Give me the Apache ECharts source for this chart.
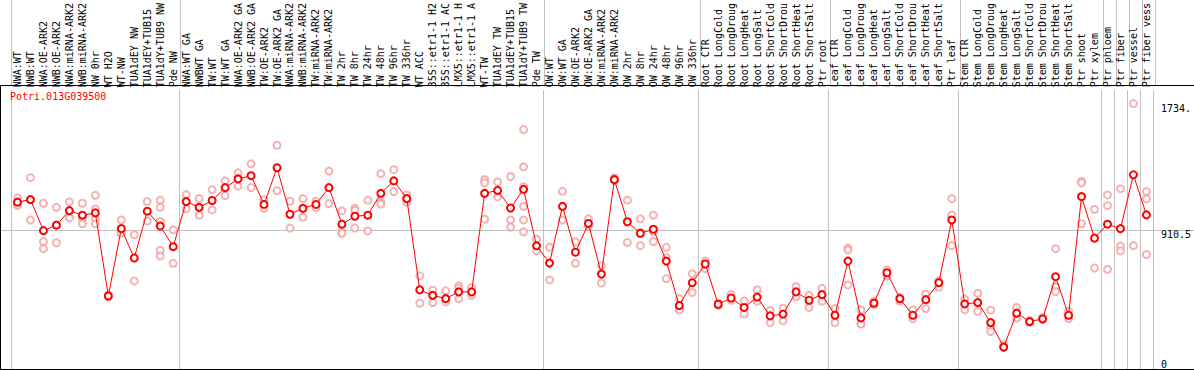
<!DOCTYPE html>
<html><head><meta charset="utf-8">
<script src="https://cdn.jsdelivr.net/npm/echarts@6/dist/echarts.min.js"></script>
<style>html,body{margin:0;padding:0;background:#fff}#c{width:1194px;height:370px}</style>
</head><body><div id="c"></div>
<script>
const geneName = 'Potri.013G039500';
const categories = ['NWA:WT','NWB:WT','NWA:OE-ARK2','NWB:OE-ARK2','NWA:miRNA-ARK2','NWB:miRNA-ARK2','NW 0hr','WT H2O','WT-NW','TUA1dEY NW','TUA1dEY+TUB15 NW','TUA1dY+TUB9 NW','Pde NW',
'NWA:WT GA','NWBWT GA','TW:WT','TW:WT GA','NWA:OE-ARK2 GA','NWB:OE-ARK2 GA','TW:OE-ARK2','TW:OE-ARK2 GA','NWA:miRNA-ARK2 GA','NWB:miRNA-ARK2 GA','TW:miRNA-ARK2','TW:miRNA-ARK2 GA','TW 2hr','TW 8hr','TW 24hr','TW 48hr','TW 96hr','TW 336hr','WT ACC','35S::etr1-1 H2O','35S::etr1-1 ACC','LMX5::etr1-1 H2O','LMX5::etr1-1 ACC','WT-TW','TUA1dEY TW','TUA1dEY+TUB15 TW','TUA1dY+TUB9 TW','Pde TW',
'OW:WT','OW:WT GA','OW:OE-ARK2','OW:OE-ARK2 GA','OW:miRNA-ARK2','OW:miRNA-ARK2 GA','OW 2hr','OW 8hr','OW 24hr','OW 48hr','OW 96hr','OW 336hr',
'Root CTR','Root LongCold','Root LongDrought','Root LongHeat','Root LongSalt','Root ShortCold','Root ShortDrought','Root ShortHeat','Root ShortSalt','Ptr root',
'Leaf CTR','Leaf LongCold','Leaf LongDrought','Leaf LongHeat','Leaf LongSalt','Leaf ShortCold','Leaf ShortDrought','Leaf ShortHeat','Leaf ShortSalt','Ptr leaf',
'Stem CTR','Stem LongCold','Stem LongDrought','Stem LongHeat','Stem LongSalt','Stem ShortCold','Stem ShortDrought','Stem ShortHeat','Stem ShortSalt','Ptr shoot',
'Ptr xylem','Ptr phloem','Ptr fiber','Ptr vessel','Ptr fiber vessel'];

const meanValues = [1090,1107,904,940,1035,1005,1020,477,917,725,1031,934,799,
1094,1056,1101,1185,1242,1263,1075,1315,1011,1050,1075,1185,946,998,1005,1148,1229,1113,517,481,460,504,504,1148,1167,1052,1174,805,
692,1063,763,951,620,1237,962,887,913,705,415,564,
686,423,464,402,470,347,359,504,449,486,
351,705,334,430,629,460,351,453,564,974,
425,434,303,143,365,310,327,603,351,1126,
855,946,917,1269,1007];

const replicateValues = [
[1118,1083,1069],[1250,1107,973],[1083,833,786],[1056,825],[1091,987],[1083,983,949],[1135,1045,981,949],[484,470],[974,892,887],[877,575],[1094,966],[1103,1056,964,776,738],[909,690],
[1139,1047],[1113,1005],[1172,1039],[1229,1133],[1282,1195],[1340,1185],[1105,1050],[1462,1165],[1096,921],[1113,992],[1096,1054],[1293,1081],[1033,896,887],[1050,1037,921],[1103,902],[1276,1090,1077],[1302,1159],[1137,1113,1090],[609,430],[515,434],[511,457,438],[543,527,460],[532,481],[1237,1216,979],[1222,1124],[1257,974,927],[1564,1321,1191,1063,973,896],[848,772],
[795,582],[1161,974],[831,690],[981,934],[675,562],[1250,1237,1230],[1103,827],[981,892,806],[1005,896,833],[795,727,590],[460,399,386],[622,500],
[705,656],[430,415],[488,449],[444,361],[517,443],[382,303],[397,316],[538,473],[481,402],[527,443],
[395,303],[790,778,549],[386,299,293],[443,421],[647,607],[468,443],[386,329],[490,395],[575,534],[1113,1005,806],
[457,386],[494,376],[384,278,245],[158,139],[402,332],[317,305],[336,323],[786,538,506],[378,329],[1226,1216,949],
[1043,660],[1137,1067,651],[1178,803,772],[1734.3,806],[1159,1111,748]];

const yAxisMax = 1821;
const yLabelValues = [910.5, 1734.3];
const yZeroLabel = [0];
const midLineValue = 910.5;
const groupStartIndices = [0,13,41,53,63,73,84,85,86,87];

const MONO = 'DejaVu Sans Mono';
const GRID_LEFT = 11, GRID_W = 1144;
const chart = echarts.init(document.getElementById('c'), null, {renderer: 'svg'});

const splitInterval = (idx) => groupStartIndices.indexOf(idx) >= 0;
const replicatePoints = [];
replicateValues.forEach((arr, i) => arr.forEach(v => replicatePoints.push([i, v])));

chart.setOption({
  animation: false,
  backgroundColor: '#fff',
  title: {text: geneName, left: 10, top: 91, padding: 0,
    textStyle: {color: '#ff0000', fontSize: 10, fontFamily: MONO, fontWeight: 'normal'}},
  grid: [
    {left: GRID_LEFT, width: GRID_W, top: 85, height: 284, containLabel: false},
    {left: GRID_LEFT, width: GRID_W, top: 0, height: 85, containLabel: false}
  ],
  xAxis: [
    {gridIndex: 0, type: 'category', data: categories, position: 'top', boundaryGap: true,
      axisLine: {show: false}, axisTick: {show: false},
      axisLabel: {show: true, interval: 0, rotate: 90, margin: 3, fontSize: 10, fontFamily: MONO, color: '#000',
        formatter: (v) => v.slice(0, 14)},
      splitLine: {show: true, interval: splitInterval, lineStyle: {color: '#c0c0c0', width: 1}}},
    {gridIndex: 1, type: 'category', data: categories, boundaryGap: true,
      axisLine: {show: false}, axisTick: {show: false}, axisLabel: {show: false},
      splitLine: {show: true, interval: splitInterval, lineStyle: {color: '#c0c0c0', width: 1}}}
  ],
  yAxis: [
    {gridIndex: 0, type: 'value', position: 'right', min: 0, max: yAxisMax,
      axisLine: {show: false}, axisTick: {show: false}, splitLine: {show: false},
      axisLabel: {show: true, customValues: yLabelValues, margin: 8, verticalAlign: 'top', fontSize: 10, fontFamily: MONO, color: '#000',
        formatter: (v) => String(v).slice(0, 5)}},
    {gridIndex: 0, type: 'value', position: 'right', min: 0, max: yAxisMax,
      axisLine: {show: false}, axisTick: {show: false}, splitLine: {show: false},
      axisLabel: {show: true, customValues: yZeroLabel, margin: 8, verticalAlign: 'bottom', fontSize: 10, fontFamily: MONO, color: '#000',
        formatter: (v) => String(v).slice(0, 5)}},
    {gridIndex: 1, type: 'value', show: false}
  ],
  series: [
    {type: 'scatter', xAxisIndex: 0, yAxisIndex: 0, data: replicatePoints, symbol: 'emptyCircle', symbolSize: 7,
      itemStyle: {color: '#f0a0a0', borderColor: '#ee9999', borderWidth: 1.2}, z: 2},
    {type: 'line', xAxisIndex: 0, yAxisIndex: 0, data: meanValues, symbol: 'emptyCircle', symbolSize: 7, showAllSymbol: true,
      lineStyle: {color: '#ff0000', width: 1}, itemStyle: {color: '#ff0000', borderColor: '#d00000', borderWidth: 1.3}, z: 3}
  ]
});

const midY = chart.convertToPixel({yAxisIndex: 0}, midLineValue);
chart.setOption({
  graphic: [
    {type: 'line', shape: {x1: 0, y1: Math.round(midY) + 0.5, x2: 1194, y2: Math.round(midY) + 0.5}, style: {stroke: '#c0c0c0', lineWidth: 1}, z: 0, silent: true},
    {type: 'line', shape: {x1: 0, y1: 85.5, x2: 1194, y2: 85.5}, style: {stroke: '#000', lineWidth: 1}, z: 10, silent: true},
    {type: 'line', shape: {x1: 0, y1: 369.5, x2: 1194, y2: 369.5}, style: {stroke: '#000', lineWidth: 1}, z: 10, silent: true},
    {type: 'line', shape: {x1: 0.5, y1: 85, x2: 0.5, y2: 370}, style: {stroke: '#000', lineWidth: 1}, z: 10, silent: true}
  ]
});
</script>
</body></html>
